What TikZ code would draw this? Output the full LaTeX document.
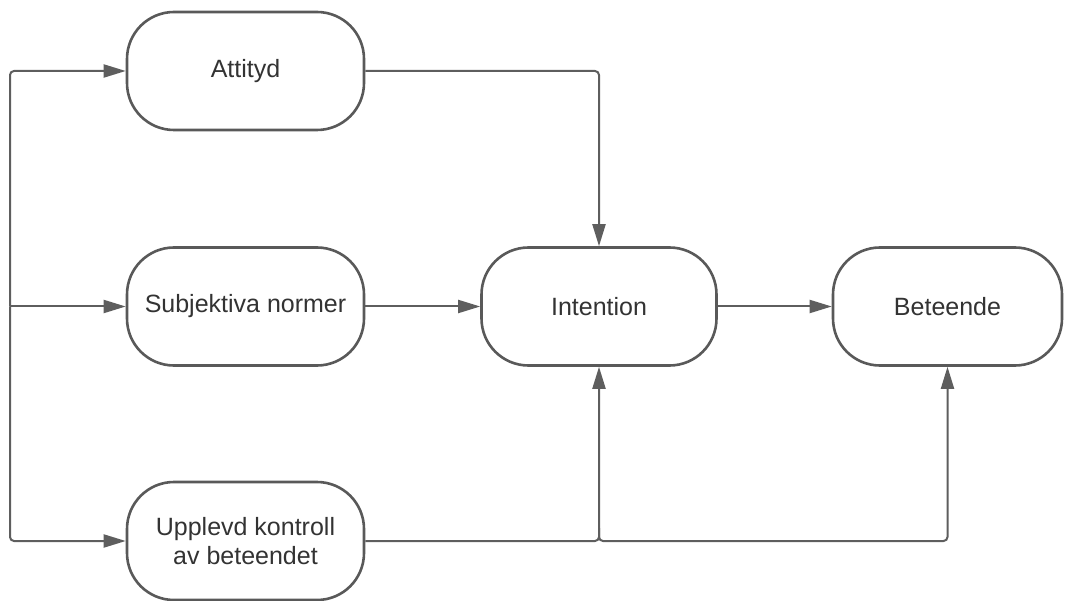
\documentclass[tikz,border=0pt]{standalone}
\usepackage{fontspec}
\setmainfont{Liberation Sans}
\usetikzlibrary{arrows.meta}
\definecolor{edgecol}{HTML}{5E5E5E}
\definecolor{boxcol}{HTML}{595959}
\definecolor{txtcol}{HTML}{333333}
\tikzset{
  pill/.style={draw=boxcol, line width=2.6pt, rounded corners=47pt, fill=white,
    minimum height=118pt, inner sep=0pt, text=txtcol, align=center,
    font=\fontsize{25}{29}\selectfont},
  conn/.style={draw=edgecol, line width=2pt, rounded corners=4pt,
    -{Triangle[length=22pt,width=13pt]}},
}
\begin{document}
\begin{tikzpicture}[x=1pt,y=-1pt]
\useasboundingbox (0,0) rectangle (1065,601);
\node[pill, minimum width=237pt] (att) at (245.5,71) {Attityd};
\node[pill, minimum width=237pt] (sub) at (245.5,306.5) {Subjektiva normer};
\node[pill, minimum width=237pt] (upp) at (245.5,541) {Upplevd kontroll\\av beteendet};
\node[pill, minimum width=235pt] (int) at (599,306.5) {Intention};
\node[pill, minimum width=229pt] (bet) at (947.5,306.5) {Beteende};
\coordinate (L) at (10,306.5);
\coordinate (J) at (599,528);
\draw[conn] (L) |- (att.west);
\draw[conn] (L) -- (sub.west);
\draw[conn] (L) |- (upp.west);
\draw[conn] (att.east) -| (int.north);
\draw[conn] (sub.east) -- (int.west);
\draw[conn] (int.east) -- (bet.west);
\draw[conn] (upp.east) -| (int.south);
\draw[conn] (J) -- (J |- upp.east) -| (bet.south);
\end{tikzpicture}
\end{document}
